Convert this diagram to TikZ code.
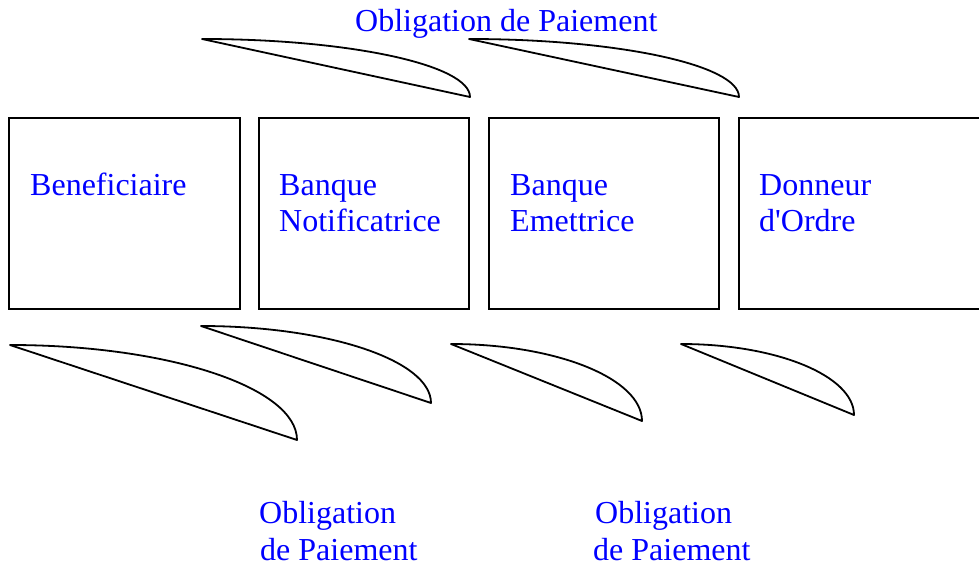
\documentclass[tikz,border=0pt]{standalone}
\usepackage{fontspec}
\setmainfont{Liberation Serif}
\begin{document}
\begin{tikzpicture}[x=1pt,y=-1pt,
  party/.style={draw=black,line width=1.8pt},
  blade/.style={draw=black,line width=1.8pt,line join=round},
  lbl/.style={anchor=base west,inner sep=0pt,text=blue,font=\fontsize{32}{36}\selectfont}]
\useasboundingbox (0,0) rectangle (979,569);
\clip (0,0) rectangle (979,569);

% parties
\draw[party] (9,118) rectangle (240,309);
\draw[party] (259,118) rectangle (469,309);
\draw[party] (489,118) rectangle (719,309);
\draw[party] (739,118) rectangle (990,309);

\node[lbl] (ben)  at (30,196)  {Beneficiaire};
\node[lbl] (bn1)  at (279,196) {Banque};
\node[lbl] (bn2)  at (279,232) {Notificatrice};
\node[lbl] (be1)  at (510,196) {Banque};
\node[lbl] (be2)  at (510,232) {Emettrice};
\node[lbl] (do1)  at (759,196) {Donneur};
\node[lbl] (do2)  at (759,232) {d\textquotesingle Ordre};

% blade-shaped strokes: quarter-ellipse arc closed by a straight edge
\foreach \xa/\ya/\xb/\yb in {202/39/470/97, 469/39/739/97,
    10/345/297/440, 201/326/431/403, 451/344/642/421, 681/344/854/415}{
  \draw[blade] (\xa,\ya)
    .. controls ({\xa+0.552*(\xb-\xa)},\ya) and (\xb,{\yb-0.552*(\yb-\ya)})
    .. (\xb,\yb) -- cycle;
}

% captions
\node[lbl] (top)  at (355,32)  {Obligation de Paiement};
\node[lbl] (bl1)  at (259,523) {Obligation};
\node[lbl] (bl2)  at (260,560) {de Paiement};
\node[lbl] (br1)  at (595,523) {Obligation};
\node[lbl] (br2)  at (593,560) {de Paiement};
\end{tikzpicture}
\end{document}
